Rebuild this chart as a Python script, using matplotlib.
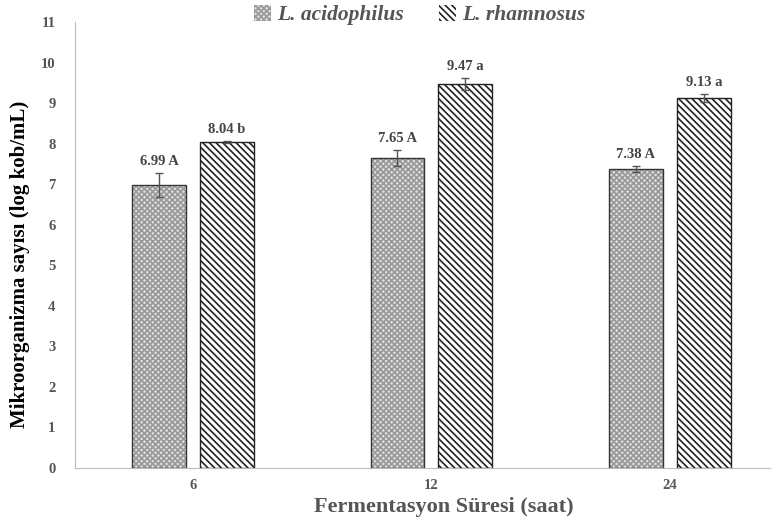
import numpy as np
import matplotlib.pyplot as plt

plt.rcParams['font.family'] = ['Liberation Serif', 'DejaVu Serif']
plt.rcParams['hatch.linewidth'] = 1.2

# data
hours = ['6', '12', '24']
acid = [6.99, 7.65, 7.38]
acid_err = [0.30, 0.20, 0.08]
acid_lab = ['6.99 A', '7.65 A', '7.38 A']
rham = [8.04, 9.47, 9.13]
rham_err = [0.02, 0.15, 0.10]
rham_lab = ['8.04 b', '9.47 a', '9.13 a']

fig = plt.figure(figsize=(7.77, 5.17), dpi=100)
ax = fig.add_axes([0.0965, 0.095, 0.894, 0.862])

x = np.arange(len(hours))
w = 0.226
off = 0.142

b1 = ax.bar(x - off, acid, w, facecolor='#e0e0e0', edgecolor='#999999', hatch='xxxxxx', linewidth=0)
ax.bar(x - off, acid, w, fill=False, edgecolor='#333333', linewidth=1.0)
b2 = ax.bar(x + off, rham, w, facecolor='white', edgecolor='#222222', hatch='\\\\\\\\\\', linewidth=0)
ax.bar(x + off, rham, w, fill=False, edgecolor='#222222', linewidth=1.0)

ax.errorbar(x - off, acid, yerr=acid_err, fmt='none', ecolor='#555555', elinewidth=1, capsize=3)
ax.errorbar(x + off, rham, yerr=rham_err, fmt='none', ecolor='#555555', elinewidth=1, capsize=3)

for i in range(len(hours)):
    ax.text(x[i] - off, acid[i] + acid_err[i] + 0.12, acid_lab[i], ha='center', va='bottom',
            fontsize=10.5, fontweight='bold', color='#444444')
    ax.text(x[i] + off, rham[i] + rham_err[i] + 0.12, rham_lab[i], ha='center', va='bottom',
            fontsize=10.5, fontweight='bold', color='#444444')

ax.set_xlim(-0.494, 2.418)
ax.set_ylim(0, 11)
ax.set_yticks(range(0, 12))
ax.set_xticks(x)
ax.set_xticklabels(hours)
ax.tick_params(axis='y', length=0, labelsize=10.5, labelcolor='#555555', pad=14)
ax.tick_params(axis='x', length=0, labelsize=10.5, labelcolor='#555555', pad=8)
for lab in ax.get_xticklabels() + ax.get_yticklabels():
    lab.set_fontweight('bold')

for s in ['top', 'right']:
    ax.spines[s].set_visible(False)
ax.spines['left'].set_color('#bbbbbb')
ax.spines['bottom'].set_color('#bbbbbb')

ax.set_ylabel('Mikroorganizma sayısı (log kob/mL)', fontsize=15, fontweight='bold')
ax.yaxis.label.set_va('center')
ax.yaxis.set_label_coords(-0.079, 0.457)
ax.set_xlabel('Fermentasyon Süresi (saat)', fontsize=16, fontweight='bold', color='#555555')
ax.xaxis.label.set_va('top')
ax.xaxis.set_label_coords(0.531, -0.066)

leg = fig.legend([b1, b2], ['L. acidophilus', 'L. rhamnosus'], loc='center',
                 bbox_to_anchor=(0.54, 1 - 15 / 517), ncol=2, frameon=False, handlelength=0.8,
                 handleheight=0.8, columnspacing=1.6, handletextpad=0.3,
                 prop={'style': 'italic', 'weight': 'bold', 'size': 15.5})
for t in leg.get_texts():
    t.set_color('#555555')

fig.savefig('out.png', dpi=100)
